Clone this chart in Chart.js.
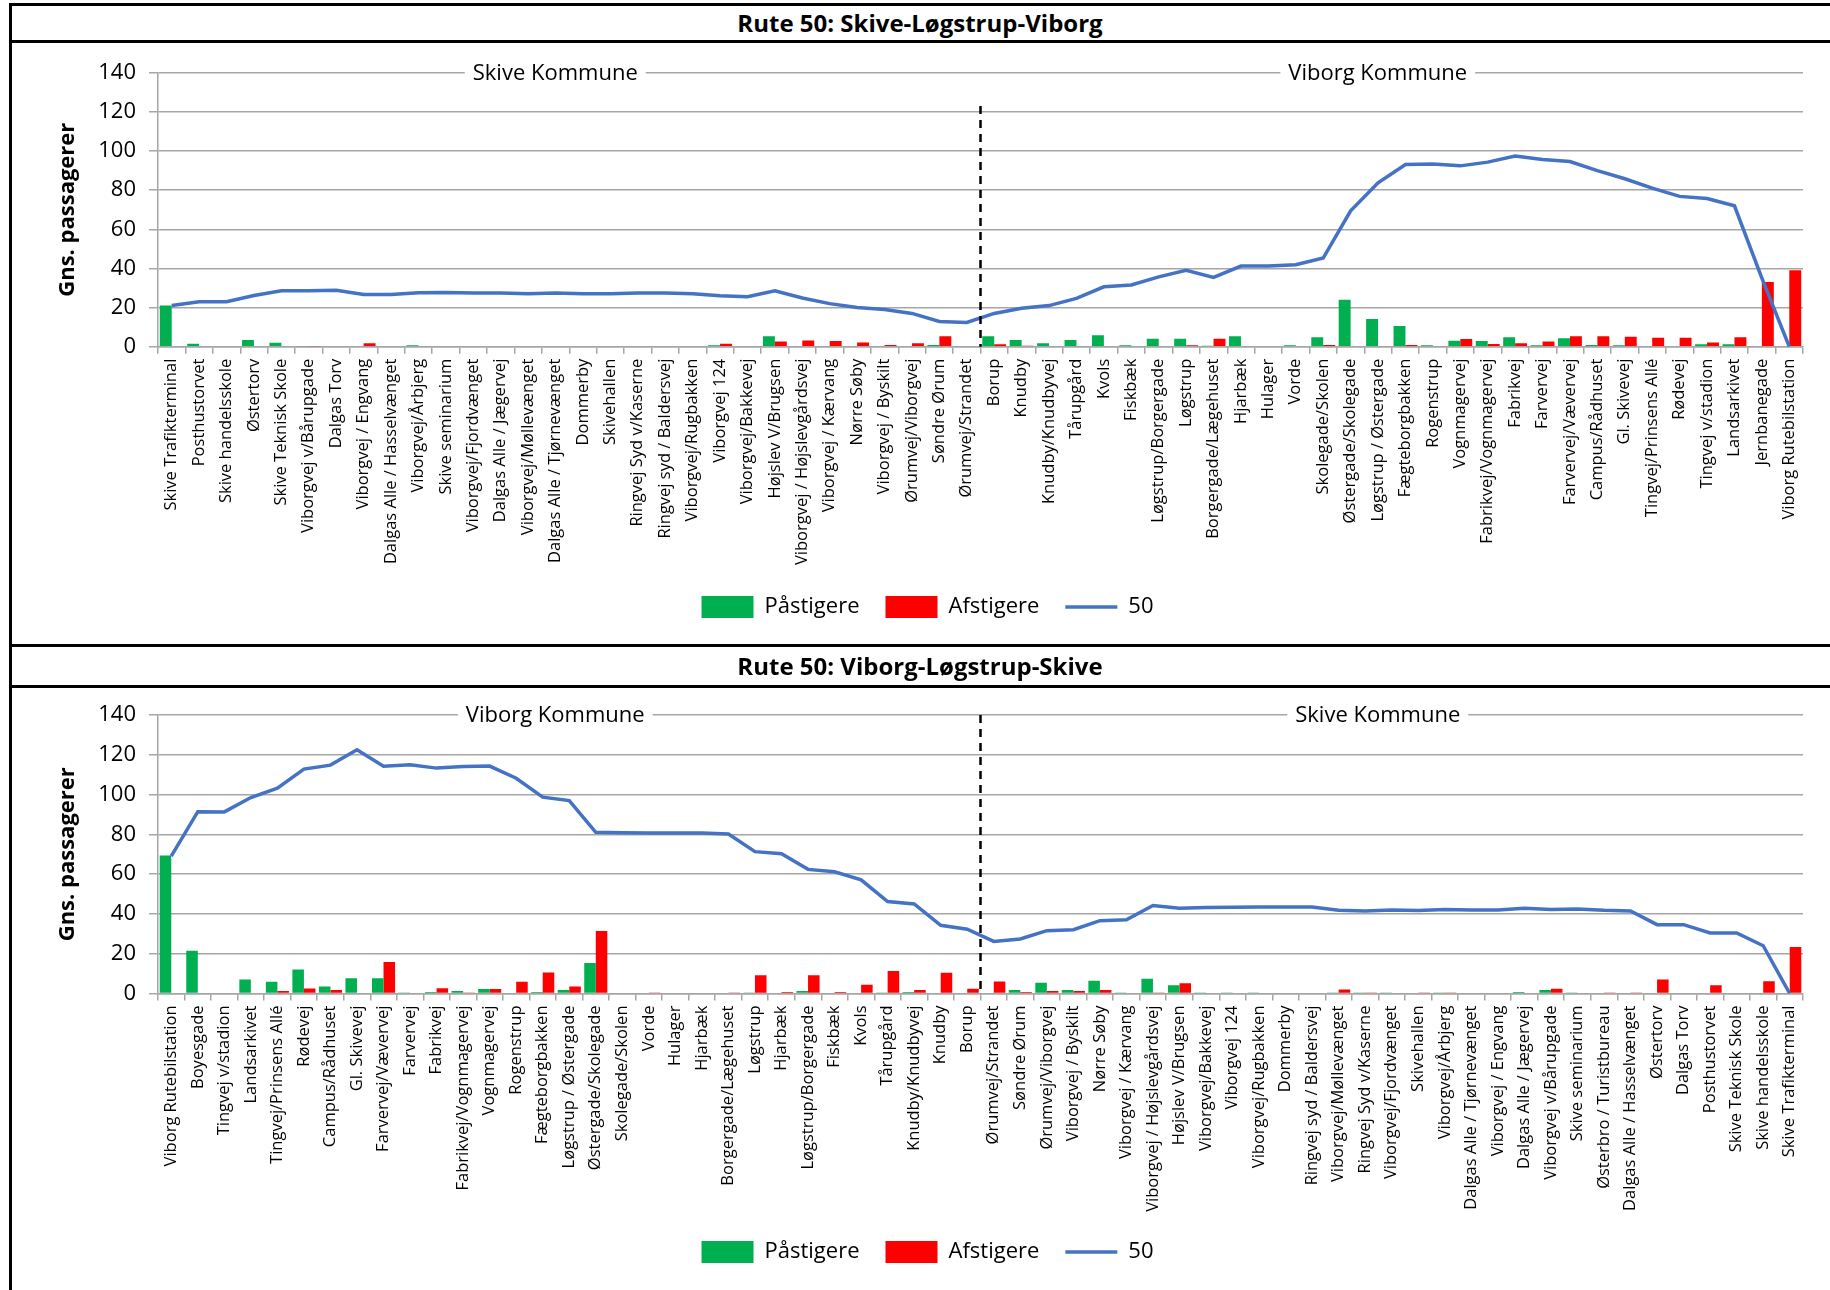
<!DOCTYPE html>
<html lang="da">
<head>
<meta charset="utf-8">
<title>Rute 50 – passagerer</title>
<script src="https://cdn.jsdelivr.net/npm/chart.js@4.4.1/dist/chart.umd.min.js"></script>
<style>
  html, body { margin: 0; padding: 0; background: #fff; }
  body { width: 1830px; height: 1290px; position: relative; overflow: hidden; font-family: "Open Sans", sans-serif; }
  .frame { position: absolute; left: 9px; top: 3px; width: 1900px; height: 1400px; border: 3px solid #000; box-sizing: border-box; }
  .rule { position: absolute; left: 9px; width: 1900px; height: 3px; background: #000; z-index: 2; }
  .title { position: absolute; left: 10px; width: 1820px; text-align: center; font-weight: bold; font-size: 24px; line-height: 1; color: #000; z-index: 2; }
  .box { position: absolute; left: 12px; width: 1818px; height: 602px; }
</style>
</head>
<body>
<div class="frame"></div>
<div class="title" style="top:11px">Rute 50: Skive-Løgstrup-Viborg</div>
<div class="rule" style="top:40px"></div>
<div class="box" style="top:43px"><canvas id="chartOut"></canvas></div>
<div class="rule" style="top:644px"></div>
<div class="title" style="top:654px">Rute 50: Viborg-Løgstrup-Skive</div>
<div class="rule" style="top:685px"></div>
<div class="box" style="top:688px"><canvas id="chartIn"></canvas></div>

<script>
/* ---------- Data: Skive -> Løgstrup -> Viborg ---------- */
const stopsOut = [
    'Skive Trafikterminal', 'Posthustorvet', 'Skive handelsskole', 'Østertorv', 'Skive Teknisk Skole',
    'Viborgvej v/Bårupgade', 'Dalgas Torv', 'Viborgvej / Engvang', 'Dalgas Alle / Hasselvænget', 'Viborgvej/Årbjerg',
    'Skive seminarium', 'Viborgvej/Fjordvænget', 'Dalgas Alle / Jægervej', 'Viborgvej/Møllevænget', 'Dalgas Alle / Tjørnevænget',
    'Dommerby', 'Skivehallen', 'Ringvej Syd v/Kaserne', 'Ringvej syd / Baldersvej', 'Viborgvej/Rugbakken',
    'Viborgvej 124', 'Viborgvej/Bakkevej', 'Højslev V/Brugsen', 'Viborgvej / Højslevgårdsvej', 'Viborgvej / Kærvang',
    'Nørre Søby', 'Viborgvej / Byskilt', 'Ørumvej/Viborgvej', 'Søndre Ørum', 'Ørumvej/Strandet',
    'Borup', 'Knudby', 'Knudby/Knudbyvej', 'Tårupgård', 'Kvols',
    'Fiskbæk', 'Løgstrup/Borgergade', 'Løgstrup', 'Borgergade/Lægehuset', 'Hjarbæk',
    'Hulager', 'Vorde', 'Skolegade/Skolen', 'Østergade/Skolegade', 'Løgstrup / Østergade',
    'Fægteborgbakken', 'Rogenstrup', 'Vognmagervej', 'Fabrikvej/Vognmagervej', 'Fabrikvej',
    'Farvervej', 'Farvervej/Vævervej', 'Campus/Rådhuset', 'Gl. Skivevej', 'Tingvej/Prinsens Allé',
    'Rødevej', 'Tingvej v/stadion', 'Landsarkivet', 'Jernbanegade', 'Viborg Rutebilstation'
];
const onOut = [
    21, 1.5, 0, 3.4, 2, 0.2, 0, 0.3, 0, 0.7,
    0, 0, 0, 0, 0, 0, 0, 0, 0, 0,
    0.7, 0, 5.4, 0.3, 0.3, 0, 0, 0, 0.9, 0,
    5.4, 3.4, 1.7, 3.4, 5.8, 0.7, 4.1, 4.1, 0.5, 5.4,
    0, 0.7, 4.8, 24, 14.1, 10.6, 0.7, 3.1, 2.9, 4.8,
    0.7, 4.3, 0.9, 0.7, 0, 0, 1.2, 1.2, 0.3, 0
];
const offOut = [
    0, 0, 0, 0, 0, 0.2, 0, 1.7, 0, 0,
    0, 0.3, 0, 0.4, 0, 0.3, 0, 0, 0, 0.3,
    1.5, 0.4, 2.7, 3.2, 2.9, 2.2, 0.9, 1.7, 5.3, 0.4,
    1.2, 0.5, 0.3, 0, 0, 0, 0, 0.7, 4.1, 0,
    0, 0.3, 0.9, 0.3, 0, 0.9, 0.3, 3.9, 1.4, 1.7,
    2.6, 5.3, 5.4, 5.1, 4.6, 4.6, 2.2, 4.8, 33, 39
];
const loadOut = [
    21, 23, 23, 26.2, 28.6, 28.6, 28.8, 26.7, 26.7, 27.6,
    27.7, 27.4, 27.4, 27.1, 27.4, 27.1, 27.1, 27.4, 27.4, 27.1,
    26, 25.5, 28.6, 24.9, 22, 20, 19, 17, 12.9, 12.4,
    17, 19.6, 21, 24.7, 30.6, 31.5, 35.7, 39, 35.4, 41.2,
    41.2, 41.9, 45.3, 69.4, 83.7, 93.1, 93.3, 92.4, 94.3, 97.4,
    95.7, 94.6, 90, 85.8, 81, 76.8, 75.7, 72, 35, 0
];

/* ---------- Data: Viborg -> Løgstrup -> Skive ---------- */
const stopsIn = [
    'Viborg Rutebilstation', 'Boyesgade', 'Tingvej v/stadion', 'Landsarkivet', 'Tingvej/Prinsens Allé',
    'Rødevej', 'Campus/Rådhuset', 'Gl. Skivevej', 'Farvervej/Vævervej', 'Farvervej',
    'Fabrikvej', 'Fabrikvej/Vognmagervej', 'Vognmagervej', 'Rogenstrup', 'Fægteborgbakken',
    'Løgstrup / Østergade', 'Østergade/Skolegade', 'Skolegade/Skolen', 'Vorde', 'Hulager',
    'Hjarbæk', 'Borgergade/Lægehuset', 'Løgstrup', 'Hjarbæk', 'Løgstrup/Borgergade',
    'Fiskbæk', 'Kvols', 'Tårupgård', 'Knudby/Knudbyvej', 'Knudby',
    'Borup', 'Ørumvej/Strandet', 'Søndre Ørum', 'Ørumvej/Viborgvej', 'Viborgvej / Byskilt',
    'Nørre Søby', 'Viborgvej / Kærvang', 'Viborgvej / Højslevgårdsvej', 'Højslev V/Brugsen', 'Viborgvej/Bakkevej',
    'Viborgvej 124', 'Viborgvej/Rugbakken', 'Dommerby', 'Ringvej syd / Baldersvej', 'Viborgvej/Møllevænget',
    'Ringvej Syd v/Kaserne', 'Viborgvej/Fjordvænget', 'Skivehallen', 'Viborgvej/Årbjerg', 'Dalgas Alle / Tjørnevænget',
    'Viborgvej / Engvang', 'Dalgas Alle / Jægervej', 'Viborgvej v/Bårupgade', 'Skive seminarium', 'Østerbro / Turistbureau',
    'Dalgas Alle / Hasselvænget', 'Østertorv', 'Dalgas Torv', 'Posthustorvet', 'Skive Teknisk Skole',
    'Skive handelsskole', 'Skive Trafikterminal'
];
const onIn = [
    69.4, 21.5, 0, 7.1, 5.9, 12.1, 3.5, 7.7, 7.7, 0.5,
    0.8, 1.3, 2.2, 0, 0.8, 1.8, 15.3, 0, 0, 0,
    0, 0, 0.3, 0, 1.3, 0, 0, 0.3, 0.8, 0,
    0, 0, 1.8, 5.4, 1.7, 6.4, 0.5, 7.4, 4.2, 0.2,
    0.2, 0.2, 0, 0, 0.2, 0.3, 0.3, 0, 0.3, 0,
    0, 0.8, 1.7, 0.3, 0, 0, 0, 0, 0, 0,
    0, 0
];
const offIn = [
    0, 0, 0, 0, 1.2, 2.5, 1.7, 0, 15.8, 0,
    2.7, 0.3, 2.2, 5.9, 10.6, 3.5, 31.4, 0, 0.2, 0,
    0, 0.5, 9.2, 0.8, 9.2, 0.8, 4.4, 11.3, 1.8, 10.4,
    2.4, 6, 0.7, 1.3, 1.2, 1.7, 0, 0.2, 5.2, 0,
    0, 0, 0, 0, 2, 0.5, 0, 0.2, 0.3, 0,
    0, 0, 2.4, 0, 0.3, 0.3, 7.1, 0, 4.2, 0,
    6.2, 23.4
];
const loadIn = [
    69.1, 91.4, 91.3, 98.5, 103.2, 112.8, 114.8, 122.5, 114.3, 115,
    113.3, 114.1, 114.3, 108.2, 98.7, 97, 81, 80.8, 80.7, 80.7,
    80.7, 80.2, 71.3, 70.3, 62.4, 61.2, 57.1, 46.2, 45, 34.3,
    32.3, 26.2, 27.4, 31.6, 32.1, 36.6, 37.1, 44.2, 42.9, 43.2,
    43.4, 43.5, 43.5, 43.5, 41.8, 41.5, 42, 41.7, 42.2, 42,
    42, 42.9, 42.2, 42.5, 41.8, 41.5, 34.6, 34.6, 30.4, 30.4,
    24, 0
];

const seriesNames = ['Påstigere', 'Afstigere', '50'];
const yMax = 140;
const yStep = 20;

const FONT = '"Open Sans", sans-serif';
const GRID = '#a6a6a6';

/* Kommune labels on the top gridline + dashed border between them */
const kommunePlugin = {
    id: 'kommune',
    afterDraw: function (chart, args, opts) {
        const ctx = chart.ctx;
        const area = chart.chartArea;
        const x = chart.scales.x;
        const y = chart.scales.y;
        const split = (x.getPixelForValue(opts.split - 1) + x.getPixelForValue(opts.split)) / 2;

        ctx.save();
        ctx.strokeStyle = '#000';
        ctx.lineWidth = 2.5;
        ctx.setLineDash([8, 6]);
        ctx.beginPath();
        ctx.moveTo(split, y.getPixelForValue(opts.dashFrom));
        ctx.lineTo(split, y.getPixelForValue(0));
        ctx.stroke();
        ctx.setLineDash([]);

        ctx.font = '22px ' + FONT;
        ctx.textAlign = 'center';
        ctx.textBaseline = 'middle';
        const ty = y.getPixelForValue(yMax);
        [[opts.left, (area.left + split) / 2], [opts.right, (split + area.right) / 2]].forEach(function (p) {
            const cx = p[1] - 14;
            const w = ctx.measureText(p[0]).width + 16;
            ctx.fillStyle = '#fff';
            ctx.fillRect(cx - w / 2, ty - 14, w, 28);
            ctx.fillStyle = '#000';
            ctx.fillText(p[0], cx, ty + 1);
        });
        ctx.restore();
    }
};

function ruteChart(id, labels, on, off, load, opt) {
    return new Chart(document.getElementById(id), {
        type: 'bar',
        data: {
            labels: labels,
            datasets: [
                { label: seriesNames[0], data: on, backgroundColor: '#00B050', pointStyle: 'rect',
                  barPercentage: 1, categoryPercentage: 0.87, order: 1 },
                { label: seriesNames[1], data: off, backgroundColor: '#FF0000', pointStyle: 'rect',
                  barPercentage: 1, categoryPercentage: 0.87, order: 1 },
                { type: 'line', label: seriesNames[2], data: load, borderColor: '#4472C4', backgroundColor: '#4472C4',
                  borderWidth: 3.5, pointRadius: 0, pointStyle: 'line', tension: 0, order: 0 }
            ]
        },
        plugins: [kommunePlugin],
        options: {
            responsive: true,
            maintainAspectRatio: false,
            animation: false,
            layout: { padding: { left: 40, right: 27, top: opt.areaTop, bottom: 17 } },
            plugins: {
                legend: {
                    position: 'bottom',
                    labels: {
                        usePointStyle: true,
                        pointStyleWidth: 52,
                        padding: 26,
                        color: '#000',
                        font: { family: FONT, size: 22 },
                        sort: function (a, b) { return a.datasetIndex - b.datasetIndex; }
                    }
                },
                tooltip: { enabled: false },
                kommune: { left: opt.left, right: opt.right, split: opt.split, dashFrom: opt.dashFrom }
            },
            scales: {
                x: {
                    grid: { offset: true, drawOnChartArea: false, tickLength: 7, color: GRID, lineWidth: 1.5 },
                    border: { color: GRID, width: 1.5 },
                    ticks: { autoSkip: false, minRotation: 90, maxRotation: 90, padding: 5,
                             color: '#000', font: { family: FONT, size: 16.5 } },
                    afterFit: function (s) { s.height = opt.xHeight; }
                },
                y: {
                    min: 0,
                    max: yMax,
                    ticks: { stepSize: yStep, padding: 13, color: '#000', font: { family: FONT, size: 22 } },
                    grid: { color: GRID, lineWidth: 1.5, tickLength: 9 },
                    border: { color: GRID, width: 1.5 },
                    title: { display: true, text: 'Gns. passagerer', color: '#000',
                             font: { family: FONT, size: 22, weight: 'bold' }, padding: { top: 3, bottom: 4 } },
                    afterFit: function (s) { s.width = 106; }
                }
            }
        }
    });
}

ruteChart('chartOut', stopsOut, onOut, offOut, loadOut,
    { areaTop: 29.7, xHeight: 223.3, left: 'Skive Kommune', right: 'Viborg Kommune', split: 30, dashFrom: 123 });
ruteChart('chartIn', stopsIn, onIn, offIn, loadIn,
    { areaTop: 27, xHeight: 221.5, left: 'Viborg Kommune', right: 'Skive Kommune', split: 31, dashFrom: 140 });
</script>
</body>
</html>
